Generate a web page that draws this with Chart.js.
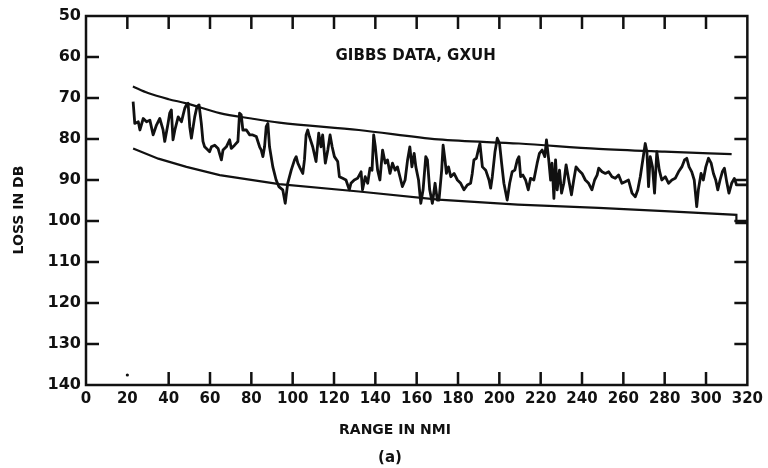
<!DOCTYPE html>
<html>
<head>
<meta charset="utf-8">
<script src="https://cdn.jsdelivr.net/npm/chart.js@4.4.1/dist/chart.umd.min.js"></script>
<style>
  html, body { margin: 0; padding: 0; background: #fff; }
</style>
</head>
<body>
<canvas id="c" width="768" height="468"></canvas>
<script>
// ---- Data ----
const xTicks = [0, 20, 40, 60, 80, 100, 120, 140, 160, 180, 200, 220, 240, 260, 280, 300, 320];
const yTicks = [50, 60, 70, 80, 90, 100, 110, 120, 130, 140];

const chartTitle = "GIBBS DATA, GXUH";
const xTitle = "RANGE IN NMI";
const yTitle = "LOSS IN DB";
const panelLabel = "(a)";

// Measured loss versus range (GXUH)
const signalRange = [
  22.8,23.6,25.3,26.1,27.7,29.3,30.9,32.5,34.1,35.7,37.3,38.1,39.7,40.5,41.3,42.1,43.0,44.6,46.2,47.0,
  47.8,48.6,49.4,50.2,51.0,52.6,53.7,54.7,55.8,56.6,57.4,59.0,59.8,60.7,62.3,63.9,65.5,66.3,67.9,69.5,
  70.3,71.9,73.5,74.3,75.1,75.9,77.6,79.2,80.7,82.4,84.0,84.8,85.6,86.4,87.2,88.0,88.8,90.4,92.0,93.3,
  95.2,96.4,97.6,99.3,100.9,101.7,102.5,103.6,104.9,105.7,106.5,107.3,108.1,109.7,111.3,112.6,113.7,114.5,115.8,117.0,
  118.1,119.1,120.2,121.8,122.6,124.2,125.8,127.4,128.2,129.8,131.4,133.1,133.8,135.1,136.3,137.4,138.4,139.2,140.0,141.1,
  142.2,143.5,144.8,145.9,147.1,148.3,149.6,150.7,151.9,153.1,154.4,155.6,156.7,157.7,158.8,159.6,160.9,162.0,163.1,164.4,
  165.2,166.3,167.6,168.9,170.0,170.8,172.1,172.8,173.7,174.4,175.4,176.5,178.1,179.7,181.3,182.9,184.5,186.1,186.9,187.7,
  188.9,189.8,190.6,191.8,193.4,195.0,195.8,196.6,197.9,199.0,200.1,201.1,202.2,203.8,205.0,206.2,207.5,208.7,209.5,210.3,
  211.4,212.7,214.0,215.1,216.7,218.3,219.4,220.7,222.0,222.8,223.9,224.8,225.5,226.4,227.2,228.0,229.1,230.1,231.2,232.3,
  233.6,234.9,236.0,237.1,238.4,240.0,241.6,243.2,244.8,246.1,247.3,248.1,249.7,251.3,252.9,254.5,256.1,257.7,259.3,260.9,
  262.5,264.2,265.8,267.0,268.2,269.3,270.6,271.4,272.2,273.0,274.1,275.1,276.2,277.4,278.6,280.3,281.9,283.5,285.1,286.7,
  288.3,289.6,290.7,291.8,293.1,294.3,295.5,296.3,297.6,298.7,299.9,301.2,302.5,303.6,304.7,305.7,306.8,307.9,308.9,310.0,
  311.1,312.4,313.7,314.5,314.7,320.0
];
const signalLoss = [
  70.9,76.2,75.8,77.8,75.0,75.8,75.4,79.0,76.6,75.0,77.8,80.6,76.2,73.7,72.9,80.2,77.8,74.6,75.8,74.1,
  72.5,71.7,71.3,77.0,79.8,74.6,72.1,71.7,76.2,80.6,81.9,82.7,83.1,81.9,81.5,82.3,85.1,82.7,81.9,80.2,
  82.3,81.5,80.6,73.7,74.1,77.8,77.8,79.0,79.0,79.4,81.9,82.7,84.3,81.9,77.0,76.2,81.9,86.8,90.0,91.6,
  92.4,95.7,90.8,87.6,85.1,84.3,85.9,87.1,88.4,85.1,79.0,77.8,79.4,81.9,85.5,78.6,81.9,79.0,85.9,82.7,
  79.0,81.9,84.3,85.5,89.2,89.6,90.0,92.4,90.8,90.0,89.6,88.0,92.4,89.2,90.8,87.1,87.6,79.0,81.9,87.6,
  90.0,82.7,85.9,85.1,88.4,85.9,87.6,86.8,89.2,91.6,90.0,85.1,81.9,86.8,83.5,86.8,90.0,95.7,92.4,84.3,
  85.1,92.4,95.7,90.8,94.9,94.9,87.6,81.5,85.1,88.4,86.8,89.2,88.4,90.0,90.8,92.4,91.2,90.8,88.4,85.1,
  84.7,82.7,81.1,86.8,87.6,90.0,92.0,89.2,83.1,79.8,81.1,85.9,90.8,94.9,90.8,88.0,87.6,85.1,84.3,89.2,
  88.8,90.0,92.4,89.6,90.0,85.9,83.5,82.7,84.3,80.2,85.1,90.0,85.9,94.5,85.1,92.4,87.6,93.2,90.8,86.3,
  90.0,93.6,90.0,86.8,87.6,88.4,90.0,90.8,92.4,90.0,88.8,87.1,88.0,88.4,88.0,89.2,89.6,88.8,90.8,90.4,
  90.0,93.2,94.1,92.4,89.2,85.5,81.1,83.1,91.6,84.3,86.8,93.2,83.1,87.6,90.0,89.2,90.8,90.0,89.6,88.0,
  86.8,85.1,84.7,86.8,88.0,90.0,96.5,92.4,88.4,90.0,86.8,84.7,85.9,88.4,90.0,92.4,90.0,88.0,87.1,90.4,
  93.2,90.8,89.6,90.8,91.2,91.2
];

// Upper envelope
const upperRange = [22.7, 30, 40, 48.6, 64.7, 80, 93.5, 132, 170.5, 209.5, 248, 280, 312.4];
const upperLoss  = [67.2, 68.8, 70.3, 71.3, 73.7, 75.0, 76.0, 77.8, 80.1, 81.1, 82.4, 83.1, 83.7];

// Lower envelope (with the closing step at the right end)
const lowerRange = [22.8, 35, 48.6, 64.7, 93.5, 132, 170.5, 209, 248, 280, 314.7, 314.7, 320];
const lowerLoss  = [82.3, 84.8, 86.8, 88.8, 91.0, 92.8, 94.8, 96.0, 96.8, 97.6, 98.5, 100.5, 100.5];

const toPoints = (xs, ys) => xs.map((v, i) => ({ x: v, y: ys[i] }));

const INK = '#111111';
const FONT = "'DejaVu Sans', 'Liberation Sans', sans-serif";

const framePlugin = {
  id: 'frameAndText',
  afterDraw(chart) {
    const ctx = chart.ctx;
    const area = chart.chartArea;
    const xs = chart.scales.x, ys = chart.scales.y;
    ctx.save();
    ctx.fillStyle = INK;
    ctx.strokeStyle = INK;
    // frame
    ctx.lineWidth = 2.5;
    ctx.strokeRect(area.left, area.top, area.right - area.left, area.bottom - area.top);
    // inward ticks
    const tl = 13, tw = 2.5;
    xTicks.forEach(v => {
      if (v === 0 || v === 320) return;
      const px = xs.getPixelForValue(v);
      ctx.fillRect(px - tw / 2, area.top, tw, tl);
      if (v === 20) {
        ctx.beginPath(); ctx.arc(px, area.bottom - 10, 1.6, 0, Math.PI * 2); ctx.fill();
      } else {
        ctx.fillRect(px - tw / 2, area.bottom - tl, tw, tl);
      }
    });
    yTicks.forEach(v => {
      if (v === 50 || v === 140) return;
      const py = ys.getPixelForValue(v);
      ctx.fillRect(area.left, py - tw / 2, tl, tw);
      ctx.fillRect(area.right - tl, py - tw / 2, tl, tw);
    });
    // texts
    ctx.textAlign = 'center';
    ctx.textBaseline = 'middle';
    ctx.font = `bold 15px ${FONT}`;
    ctx.fillText(chartTitle, xs.getPixelForValue(159.5), ys.getPixelForValue(59.8));
    ctx.font = `bold 14px ${FONT}`;
    ctx.fillText(xTitle, 395, area.bottom + 45);
    ctx.font = `bold 15px ${FONT}`;
    ctx.fillText(panelLabel, 390, area.bottom + 73);
    ctx.translate(19, 210);
    ctx.rotate(-Math.PI / 2);
    ctx.font = `bold 14px ${FONT}`;
    ctx.fillText(yTitle, 0, 0);
    ctx.restore();
  }
};

new Chart(document.getElementById('c'), {
  type: 'scatter',
  data: {
    datasets: [
      {
        label: 'Measured loss',
        data: toPoints(signalRange, signalLoss),
        showLine: true,
        borderColor: INK,
        borderWidth: 2.8,
        pointRadius: 0,
        tension: 0,
        borderJoinStyle: 'round',
        order: 1
      },
      {
        label: 'Upper bound',
        data: toPoints(upperRange, upperLoss),
        showLine: true,
        borderColor: INK,
        borderWidth: 2.2,
        pointRadius: 0,
        cubicInterpolationMode: 'monotone',
        order: 2
      },
      {
        label: 'Lower bound',
        data: toPoints(lowerRange, lowerLoss),
        showLine: true,
        borderColor: INK,
        borderWidth: 2.2,
        pointRadius: 0,
        tension: 0,
        order: 3
      }
    ]
  },
  options: {
    responsive: false,
    animation: false,
    devicePixelRatio: 1,
    layout: { padding: { top: 16, right: 19, left: 0, bottom: 0 } },
    plugins: {
      legend: { display: false },
      tooltip: { enabled: false },
      title: { display: false }
    },
    scales: {
      x: {
        type: 'linear',
        min: 0,
        max: 320,
        afterBuildTicks: s => { s.ticks = xTicks.map(v => ({ value: v })); },
        afterFit: s => { s.height = 83; },
        grid: { display: false, drawTicks: false },
        border: { display: false },
        ticks: {
          autoSkip: false,
          maxRotation: 0,
          padding: 5,
          color: INK,
          font: { family: FONT, size: 15, weight: 'bold' }
        }
      },
      y: {
        type: 'linear',
        reverse: true,
        min: 50,
        max: 140,
        afterBuildTicks: s => { s.ticks = yTicks.map(v => ({ value: v })); },
        afterFit: s => { s.width = 86; },
        grid: { display: false, drawTicks: false },
        border: { display: false },
        ticks: {
          autoSkip: false,
          padding: 5,
          color: INK,
          font: { family: FONT, size: 16, weight: 'bold' }
        }
      }
    }
  },
  plugins: [framePlugin]
});
</script>
</body>
</html>
